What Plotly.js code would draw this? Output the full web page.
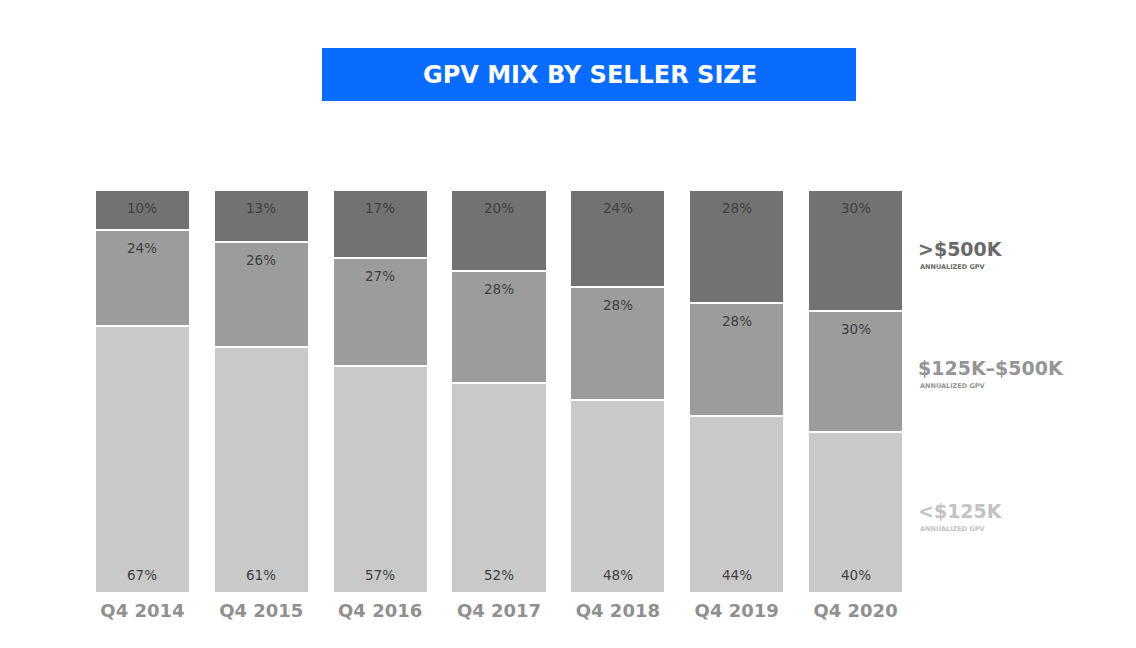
<!DOCTYPE html>
<html>
<head>
<meta charset="utf-8">
<script src="https://cdn.plot.ly/plotly-3.0.1.min.js"></script>
<style>html,body{margin:0;padding:0;background:#fff;}#chart{width:1136px;height:648px;}</style>
</head>
<body>
<div id="chart"></div>
<script>
const categories = ["Q4 2014", "Q4 2015", "Q4 2016", "Q4 2017", "Q4 2018", "Q4 2019", "Q4 2020"];
const small = [67, 61, 57, 52, 48, 44, 40];     // <$125K
const mid = [24, 26, 27, 28, 28, 28, 30];       // $125K–$500K
const large = [10, 13, 17, 20, 24, 28, 30];     // >$500K
const seriesNames = ["<$125K", "$125K–$500K", ">$500K"];
const subLabel = "ANNUALIZED GPV";
const titleText = "GPV MIX BY SELLER SIZE";

function mk(vals, name, color) {
  return {
    type: "bar", x: categories, y: vals, name: name,
    marker: {color: color, line: {color: "#ffffff", width: 2}},
    hoverinfo: "x+y+name"
  };
}
const data = [
  mk(small, seriesNames[0], "#c9c9c9"),
  mk(mid, seriesNames[1], "#9c9c9c"),
  mk(large, seriesNames[2], "#727272")
];

const L = 83, R = 221, T = 190, B = 55, W = 1136, H = 648;
const pw = W - L - R, ph = H - T - B;
const px = x => (x - L) / pw;
const py = y => (H - B - y) / ph;

const labelFont = {family: "DejaVu Sans, sans-serif", size: 13.5, color: "#3f3f3f"};
const annotations = [];
// value labels positioned from the (normalized) stack
categories.forEach((c, i) => {
  const tot = small[i] + mid[i] + large[i];
  const s = small[i] / tot * 100, m = mid[i] / tot * 100;
  annotations.push({x: c, y: 0, xref: "x", yref: "y", text: small[i] + "%", showarrow: false,
    yshift: 18, font: labelFont, yanchor: "middle"});
  annotations.push({x: c, y: s + m, xref: "x", yref: "y", text: mid[i] + "%", showarrow: false,
    yshift: -18, font: labelFont, yanchor: "middle"});
  annotations.push({x: c, y: 100, xref: "x", yref: "y", text: large[i] + "%", showarrow: false,
    yshift: -18, font: labelFont, yanchor: "middle"});
});

const annFont = (s, c, w) => ({family: "DejaVu Sans, sans-serif", size: s, color: c, weight: w});
const legendColors = ["#c3c3c3", "#959595", "#6a6a6a"];
const legendY = [511, 368, 249];
annotations.push({xref: "paper", yref: "paper", x: px(590), y: py(75), text: titleText, showarrow: false,
   font: annFont(24, "#ffffff", 700), xanchor: "center", yanchor: "middle"});
seriesNames.forEach((n, i) => {
  annotations.push({xref: "paper", yref: "paper", x: px(916), y: py(legendY[i]), text: n, showarrow: false,
    font: annFont(19, legendColors[i], 700), xanchor: "left", yanchor: "middle"});
  annotations.push({xref: "paper", yref: "paper", x: px(918), y: py(legendY[i] + 18), text: subLabel, showarrow: false,
    font: annFont(6.5, legendColors[i], 700), xanchor: "left", yanchor: "middle"});
});

const layout = {
  width: W, height: H,
  margin: {l: L, r: R, t: T, b: B},
  paper_bgcolor: "#ffffff", plot_bgcolor: "#ffffff",
  barmode: "stack", barnorm: "percent", bargap: 0.2,
  showlegend: false,
  xaxis: {tickfont: {family: "DejaVu Sans, sans-serif", size: 18, color: "#909090", weight: 700},
          showgrid: false, zeroline: false, showline: false, ticks: "", ticklabelstandoff: 5},
  yaxis: {range: [0, 100], visible: false, showgrid: false, zeroline: false},
  shapes: [
    {type: "rect", xref: "paper", yref: "paper", x0: px(322), x1: px(856), y0: py(101), y1: py(48),
     fillcolor: "#0a6cff", line: {width: 0}, layer: "below"}
  ],
  annotations: annotations
};
Plotly.newPlot("chart", data, layout, {displayModeBar: false});
</script>
</body>
</html>
